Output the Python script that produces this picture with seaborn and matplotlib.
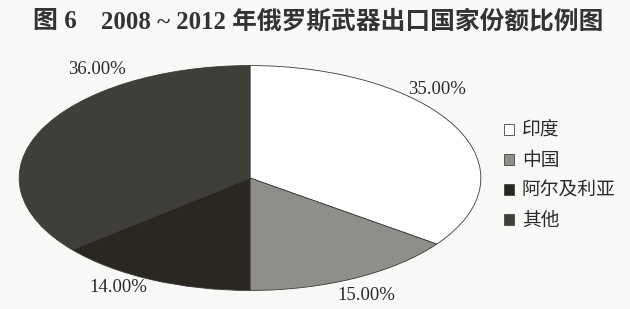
import matplotlib
matplotlib.use("Agg")
import matplotlib.pyplot as plt
import seaborn as sns

# ---- data ----
countries = ["印度", "中国", "阿尔及利亚", "其他"]
shares = [35.0, 15.0, 14.0, 36.0]
pct_labels = ["35.00%", "15.00%", "14.00%", "36.00%"]
colors = ["#ffffff", "#8e8e8a", "#2a2620", "#3f3e38"]

sns.set_theme(style="white")
plt.rcParams["font.family"] = ["Noto Sans CJK SC", "DejaVu Sans"]

W, H = 630, 309
fig = plt.figure(figsize=(W / 100, H / 100), dpi=100, facecolor="#f8f8f6")

# axes spanning the ellipse (pixel box 18..482 x 65..291)
ax = fig.add_axes([18 / W, 1 - 291 / H, 464 / W, 226 / H])
ax.set_facecolor("none")
wedges, _ = ax.pie(shares, colors=colors, startangle=90, counterclock=False,
                   radius=1.0, wedgeprops=dict(edgecolor="#3a3a3a", linewidth=0.6))
ax.set_aspect("auto")
ax.set_xlim(-1.005, 1.005)
ax.set_ylim(-1.005, 1.005)
ax.axis("off")

# percentage labels (pixel anchors, serif)
label_pos = [(437, 90), (366, 296), (118, 288), (97, 70)]
for (px, py), t in zip(label_pos, pct_labels):
    fig.text(px / W, 1 - py / H, t, ha="center", va="center",
             fontsize=13.5, family=["Liberation Serif"], color="#2a2a2a")

# title
fig.text(33 / W, 1 - 22 / H, "图 6", ha="left", va="center", fontsize=18,
         fontweight="bold", family=["Liberation Serif", "Noto Sans CJK SC"], color="#333333")
fig.text(101 / W, 1 - 22 / H, "2008 ~ 2012 年俄罗斯武器出口国家份额比例图", ha="left",
         va="center", fontsize=17.8, fontweight="bold",
         family=["Liberation Serif", "Noto Sans CJK SC"], color="#333333")

# legend
leg = fig.legend(wedges, countries, loc="upper left",
                 bbox_to_anchor=(487 / W, 1 - 103 / H), frameon=False,
                 handlelength=0.55, handleheight=0.55, handletextpad=0.4,
                 labelspacing=0.48, fontsize=13.5, labelcolor="#2a2a2a")
for h in leg.legend_handles:
    h.set_edgecolor("#444444")
    h.set_linewidth(0.6)

fig.savefig("out.png", dpi=100, facecolor=fig.get_facecolor())
